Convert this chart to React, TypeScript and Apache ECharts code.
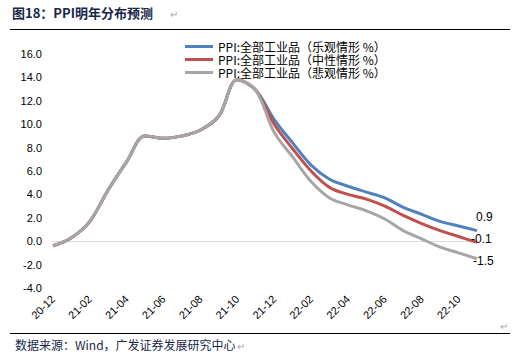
import React, { useEffect, useRef } from "react";
import * as echarts from "echarts";

const categories = [
  "20-12", "21-01", "21-02", "21-03", "21-04", "21-05", "21-06", "21-07", "21-08", "21-09", "21-10", "21-11",
  "21-12", "22-01", "22-02", "22-03", "22-04", "22-05", "22-06", "22-07", "22-08", "22-09", "22-10", "22-11",
];

const history = [-0.4, 0.3, 1.7, 4.4, 6.8, 9.0, 8.8, 9.0, 9.5, 10.7, 13.8, 12.9];
const optimistic = [10.4, 8.4, 6.5, 5.3, 4.7, 4.2, 3.7, 2.9, 2.3, 1.7, 1.3, 0.9];
const neutral = [10.0, 7.9, 6.0, 4.6, 4.0, 3.6, 3.0, 2.2, 1.5, 0.9, 0.4, -0.1];
const pessimistic = [9.3, 7.2, 5.1, 3.7, 3.1, 2.6, 1.9, 0.9, 0.2, -0.5, -1.0, -1.5];

const seriesNames = [
  "PPI:全部工业品（乐观情形 %）",
  "PPI:全部工业品（中性情形 %）",
  "PPI:全部工业品（悲观情形 %）",
];
const seriesColors = ["#4F81BD", "#C0504D", "#A6A6A6"];
const endLabelOffsets = [
  [-1, -14],
  [-6, -3],
  [-4, 2],
];

const title = "图18：PPI明年分布预测";
const source = "数据来源：Wind，广发证券发展研究中心";

const LATIN = '"Liberation Sans", Arial, "Noto Sans CJK SC", sans-serif';
const CJK = '"Noto Sans CJK SC", "Liberation Sans", sans-serif';

export default function App() {
  const ref = useRef<HTMLDivElement>(null);

  useEffect(() => {
    if (!ref.current) return;
    const chart = echarts.init(ref.current, undefined, { renderer: "svg" });
    const forecasts = [optimistic, neutral, pessimistic];

    const series: any[] = forecasts.map((f, i) => ({
      name: seriesNames[i],
      type: "line",
      data: history.concat(f),
      smooth: 0.35,
      symbol: "none",
      z: 2 + i,
      lineStyle: { color: seriesColors[i], width: 3 },
      itemStyle: { color: seriesColors[i] },
      endLabel: {
        show: true,
        formatter: (p: any) => Number(p.value).toFixed(1),
        color: "#000",
        fontSize: 12,
        fontFamily: LATIN,
        distance: 0,
        offset: endLabelOffsets[i],
      },
      markLine:
        i === 0
          ? {
              silent: true,
              symbol: "none",
              label: { show: false },
              lineStyle: { color: "#D9D9D9", width: 1, type: "solid" },
              data: [{ yAxis: 0 }],
              z: 1,
            }
          : undefined,
    }));

    chart.setOption({
      animation: false,
      backgroundColor: "#fff",
      grid: { left: 53, right: 42, top: 54, height: 234 },
      legend: {
        orient: "vertical",
        left: 180,
        top: 35,
        icon: "rect",
        itemWidth: 28,
        itemHeight: 3,
        itemGap: 0,
        textStyle: { fontSize: 12, lineHeight: 13, color: "#000", fontFamily: CJK },
        data: seriesNames,
      },
      xAxis: {
        type: "category",
        data: categories,
        boundaryGap: false,
        axisLine: { show: false },
        axisTick: { show: false },
        axisLabel: {
          interval: 1,
          rotate: 45,
          fontSize: 11,
          color: "#000",
          fontFamily: LATIN,
          margin: 9,
        },
        splitLine: { show: false },
      },
      yAxis: {
        type: "value",
        min: -4,
        max: 16,
        interval: 2,
        axisLine: { show: false },
        axisTick: { show: false },
        splitLine: { show: false },
        axisLabel: {
          fontSize: 11,
          color: "#000",
          fontFamily: LATIN,
          margin: 11,
          formatter: (v: number) => v.toFixed(1),
        },
      },
      graphic: [
        {
          type: "text",
          left: 12,
          top: 6,
          style: {
            text: title,
            fontSize: 13,
            fontWeight: "bold",
            fill: "#17284A",
            fontFamily: CJK,
          },
        },
        {
          type: "text",
          left: 170,
          top: 8,
          style: { text: "↵", fontSize: 10, fill: "#AAAAAA", fontFamily: CJK },
        },
        {
          type: "line",
          shape: { x1: 10, y1: 29.5, x2: 510, y2: 29.5 },
          style: { stroke: "#000", lineWidth: 1 },
        },
        {
          type: "line",
          shape: { x1: 10, y1: 333.5, x2: 510, y2: 333.5 },
          style: { stroke: "#000", lineWidth: 1 },
        },
        {
          type: "text",
          left: 15,
          top: 338,
          style: {
            text: source,
            fontSize: 12,
            fill: "#17284A",
            fontFamily: CJK,
          },
        },
        {
          type: "text",
          left: 237,
          top: 340,
          style: { text: "↵", fontSize: 10, fill: "#AAAAAA", fontFamily: CJK },
        },
        {
          type: "text",
          left: 500,
          top: 320,
          style: { text: "↵", fontSize: 10, fill: "#AAAAAA", fontFamily: CJK },
        },
      ],
      series,
    });

    return () => chart.dispose();
  }, []);

  return (
    <div
      ref={ref}
      style={{ position: "fixed", left: 0, top: 0, width: 519, height: 360 }}
    />
  );
}
